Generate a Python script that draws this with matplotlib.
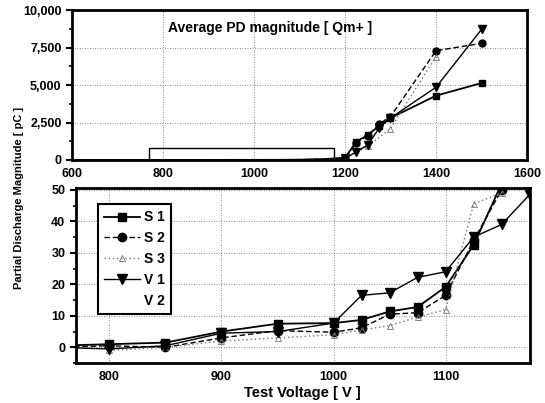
#!/usr/bin/env python3
"""Average PD magnitude vs test voltage: full range (top) and low-voltage zoom (bottom)."""

import matplotlib
matplotlib.use('Agg')
import matplotlib.pyplot as plt
from matplotlib.patches import Rectangle
from matplotlib.ticker import MultipleLocator

plt.rcParams['font.family'] = ['Liberation Sans', 'DejaVu Sans']
plt.rcParams['font.weight'] = 'bold'

# data [V], [pC]
volt_s1 = [600, 700, 750, 800, 850, 900, 950, 1000, 1025, 1050, 1075, 1100,
           1125, 1150, 1200, 1225, 1250, 1275, 1300, 1400, 1500]
pd_s1 = [0, 0, 0.5, 1, 1.5, 5, 7.5, 7.7, 8.7, 11.4, 12.8, 19.2,
         32.5, 52, 150, 1220, 1670, 2270, 2800, 4290, 5130]

volt_s2 = [600, 700, 750, 800, 850, 900, 950, 1000, 1025, 1050, 1075, 1100,
           1125, 1150, 1200, 1225, 1250, 1275, 1300, 1400, 1500]
pd_s2 = [0, 0, 0, 0.5, 0, 3, 5.3, 4.8, 6.2, 10.5, 11, 16.5,
         34, 50, 120, 1150, 1600, 2400, 2900, 7290, 7780]

volt_s3 = [800, 850, 900, 950, 1000, 1025, 1050, 1075, 1100, 1125, 1150,
           1200, 1250, 1300, 1400]
pd_s3 = [-1, 0, 2, 3, 4, 5.5, 6.9, 9.6, 12, 45.6, 49,
         100, 900, 2100, 6900]

volt_v1 = [600, 700, 750, 800, 850, 900, 950, 1000, 1025, 1050, 1075, 1100,
           1125, 1150, 1175, 1200, 1225, 1250, 1275, 1300, 1400, 1500]
pd_v1 = [0, 0, 0, -0.5, 0.5, 4.5, 5, 7.7, 16.5, 17.3, 22.2, 24,
         35, 39, 48.5, 100, 555, 1000, 2130, 2800, 4850, 8710]

volt_v2 = []
pd_v2 = []

top_yticks = [0, 2500, 5000, 7500, 10000]
top_ylabels = ['0', '2,500', '5,000', '7,500', '10,000']


def draw_series(ax, ms=6, mark_from=0):
    def every(v):
        return [x >= mark_from for x in v] if v else None

    ax.plot(volt_s1, pd_s1, 'k-', lw=1.3, marker='s', ms=ms,
            markevery=every(volt_s1), label='S 1')
    ax.plot(volt_s2, pd_s2, 'k', ls=(0, (4, 2)), lw=1.0, marker='o', ms=ms,
            markevery=every(volt_s2), label='S 2')
    ax.plot(volt_s3, pd_s3, color='0.45', ls=(0, (1, 2)), lw=1.0, marker='^',
            ms=ms - 1, mfc='none', mec='0.45', mew=0.6,
            markevery=every(volt_s3), label='S 3')
    ax.plot(volt_v1, pd_v1, 'k-', lw=1.0, marker='v', ms=ms + 1,
            markevery=every(volt_v1), label='V 1')
    ax.plot(volt_v2, pd_v2, ls='none', label='V 2')


def style_axes(ax):
    for sp in ax.spines.values():
        sp.set_linewidth(2)
    ax.grid(True, color='k', ls=(0, (1, 2)), lw=0.6, alpha=0.6)
    ax.tick_params(axis='y', which='major', direction='out', length=4, width=1.5,
                   labelsize=9)
    ax.tick_params(axis='y', which='minor', direction='out', length=2.5, width=1.2)
    ax.tick_params(axis='x', length=0, labelsize=9, pad=6)
    for lab in ax.get_xticklabels() + ax.get_yticklabels():
        lab.set_fontweight('bold')


fig = plt.figure(figsize=(5.45, 4.03), dpi=100)

# top: full range
ax1 = fig.add_axes([0.132, 0.603, 0.835, 0.372])
draw_series(ax1, ms=5, mark_from=1200)
ax1.set_xlim(600, 1600)
ax1.set_ylim(0, 10000)
ax1.set_xticks([600, 800, 1000, 1200, 1400, 1600])
ax1.set_yticks(top_yticks)
ax1.set_yticklabels(top_ylabels)
ax1.yaxis.set_minor_locator(MultipleLocator(1250))
style_axes(ax1)
ax1.add_patch(Rectangle((770, 0), 405, 780, fill=False, ec='k', lw=1.0))
ax1.text(0.435, 0.88, 'Average PD magnitude [ Qm+ ]', transform=ax1.transAxes,
         ha='center', va='center', fontsize=10, fontweight='bold')

# bottom: zoom
ax2 = fig.add_axes([0.139, 0.099, 0.833, 0.434])
draw_series(ax2, ms=6)
ax2.set_xlim(770, 1175)
ax2.set_ylim(-5, 50.5)
ax2.set_xticks([800, 900, 1000, 1100])
ax2.set_yticks([0, 10, 20, 30, 40, 50])
ax2.yaxis.set_minor_locator(MultipleLocator(5))
style_axes(ax2)
leg = ax2.legend(loc='upper left', bbox_to_anchor=(0.048, 0.909), borderaxespad=0,
                 fancybox=False, edgecolor='k', framealpha=1, handlelength=2.6,
                 handletextpad=0.3, borderpad=0.45, labelspacing=0.5,
                 prop={'weight': 'bold', 'size': 10})
leg.get_frame().set_linewidth(1.5)

ax2.set_xlabel('Test Voltage [ V ]', fontsize=10.5, fontweight='bold', labelpad=2)
fig.text(0.035, 0.51, 'Partial Discharge Magnitude [ pC ]', rotation=90,
         ha='center', va='center', fontsize=8, fontweight='bold')

fig.savefig('out.png', dpi=100)
